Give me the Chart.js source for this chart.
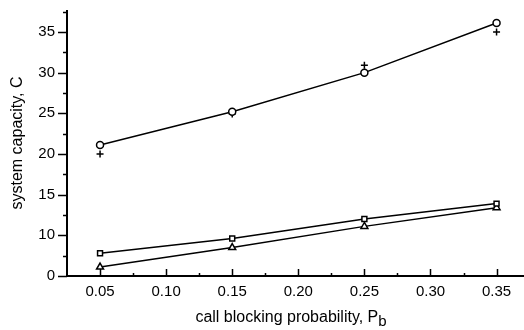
<!DOCTYPE html>
<html>
<head>
<meta charset="utf-8">
<script src="https://cdn.jsdelivr.net/npm/chart.js@4.4.1/dist/chart.umd.min.js"></script>
<style>
  html, body { margin: 0; padding: 0; background: #fff; }
  #wrap { position: relative; width: 524px; height: 330px; }
  #xtitle { position: absolute; left: 0; width: 582px; top: 308px; text-align: center;
    font-family: "Liberation Sans", Arial, sans-serif; font-size: 16px; color: #000; line-height: 18px; }
  #xtitle sub { font-size: 15px; vertical-align: -4px; line-height: 0; }
</style>
</head>
<body>
<div id="wrap">
  <canvas id="c" width="524" height="330"></canvas>
  <div id="xtitle">call blocking probability, P<sub>b</sub></div>
</div>
<script>
// Data
const blockingProb = [0.05, 0.15, 0.25, 0.35];
const capacityDiamond = [21.1, 25.2, 30.0, 36.1];
const capacityPlus = [20.0, 24.9, 30.9, 35.0];
const capacitySquare = [7.8, 9.6, 12.0, 13.9];
const capacityTriangle = [6.1, 8.5, 11.1, 13.4];

// Axis ticks
const xMajorTicks = [0.05, 0.10, 0.15, 0.20, 0.25, 0.30, 0.35];
const xMinorTicks = [0.075, 0.125, 0.175, 0.225, 0.275, 0.325];
const yMajorTicks = [5, 10, 15, 20, 25, 30, 35];
const yMajorLabels = ['0', '10', '15', '20', '25', '30', '35'];
const yMinorTicks = [7.5, 12.5, 17.5, 22.5, 27.5, 32.5, 37.5];

const pts = (ys) => blockingProb.map((x, i) => ({x: x, y: ys[i]}));

const axisPlugin = {
  id: 'axisPlugin',
  afterDraw(chart) {
    const ctx = chart.ctx;
    const xs = chart.scales.x, ys = chart.scales.y;
    const a = chart.chartArea;
    ctx.save();
    ctx.strokeStyle = '#000';
    ctx.lineWidth = 2;
    ctx.beginPath();
    ctx.moveTo(a.left, a.top);
    ctx.lineTo(a.left, a.bottom);
    ctx.lineTo(chart.width, a.bottom);
    ctx.stroke();
    ctx.lineWidth = 1.5;
    ctx.beginPath();
    xMajorTicks.forEach(v => { const p = Math.round(xs.getPixelForValue(v)) + 0.5; ctx.moveTo(p, a.bottom); ctx.lineTo(p, a.bottom - 7); });
    xMinorTicks.forEach(v => { const p = Math.round(xs.getPixelForValue(v)) + 0.5; ctx.moveTo(p, a.bottom); ctx.lineTo(p, a.bottom - 3); });
    yMajorTicks.forEach(v => { const p = Math.round(ys.getPixelForValue(v)) + 0.5; ctx.moveTo(a.left, p); ctx.lineTo(a.left - 9, p); });
    yMinorTicks.forEach(v => { const p = Math.round(ys.getPixelForValue(v)) + 0.5; ctx.moveTo(a.left, p); ctx.lineTo(a.left - 4, p); });
    ctx.stroke();
    ctx.restore();
  }
};

const font = {family: '"Liberation Sans", Arial, sans-serif', size: 15};
const titleFont = {family: '"Liberation Sans", Arial, sans-serif', size: 16};

new Chart(document.getElementById('c'), {
  type: 'scatter',
  data: {
    datasets: [
      {label: 'diamond', data: pts(capacityDiamond), showLine: true, borderColor: '#000', borderWidth: 1.5,
       pointStyle: 'circle', pointRadius: 3.5, pointBackgroundColor: '#fff', pointBorderColor: '#000', pointBorderWidth: 1.5},
      {label: 'plus', data: pts(capacityPlus), showLine: false,
       pointStyle: 'cross', pointRadius: 3.5, pointBorderColor: '#000', pointBorderWidth: 1.5},
      {label: 'square', data: pts(capacitySquare), showLine: true, borderColor: '#000', borderWidth: 1.5,
       pointStyle: 'rect', pointRadius: 3.5, pointBackgroundColor: '#fff', pointBorderColor: '#000', pointBorderWidth: 1.5},
      {label: 'triangle', data: pts(capacityTriangle), showLine: true, borderColor: '#000', borderWidth: 1.5,
       pointStyle: 'triangle', pointRadius: 4, pointBackgroundColor: '#fff', pointBorderColor: '#000', pointBorderWidth: 1.5}
    ]
  },
  options: {
    responsive: false,
    animation: false,
    devicePixelRatio: 1,
    layout: {padding: {top: 10, right: 0, left: 0, bottom: 0}},
    plugins: {legend: {display: false}, tooltip: {enabled: false}},
    scales: {
      x: {
        type: 'linear', min: 0.025, max: 0.3666,
        afterBuildTicks: (s) => { s.ticks = xMajorTicks.map(v => ({value: v})); },
        afterFit: (s) => { s.height = 54; s.paddingLeft = 0; s.paddingRight = 0; },
        grid: {display: false, drawTicks: false},
        border: {display: false},
        ticks: {color: '#000', font: font, padding: 7, maxRotation: 0,
          callback: (v) => v.toFixed(2)}
      },
      y: {
        type: 'linear', min: 5, max: 37.7,
        afterBuildTicks: (s) => { s.ticks = yMajorTicks.map(v => ({value: v})); },
        afterFit: (s) => { s.width = 67; s.paddingTop = 0; s.paddingBottom = 0; },
        grid: {display: false, drawTicks: false},
        border: {display: false},
        ticks: {color: '#000', font: font, padding: 12,
          callback: (v) => yMajorLabels[yMajorTicks.indexOf(v)]},
        title: {display: true, text: 'system capacity, C', color: '#000', font: titleFont, padding: {top: 8, bottom: 0}}
      }
    }
  },
  plugins: [axisPlugin]
});
</script>
</body>
</html>
